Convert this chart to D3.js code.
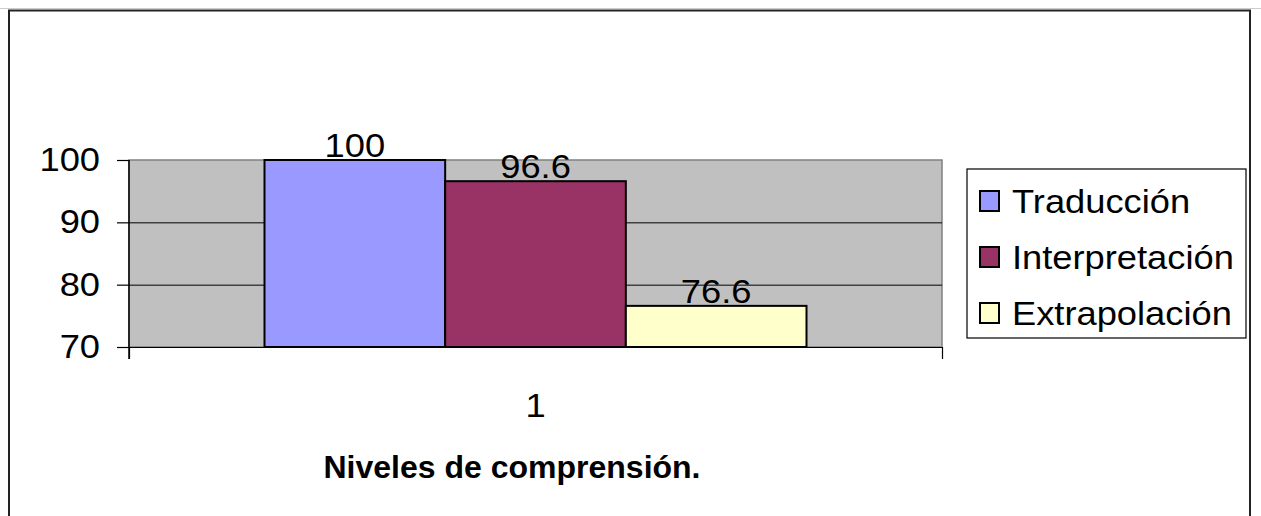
<!DOCTYPE html>
<html>
<head>
<meta charset="utf-8">
<script src="https://cdn.jsdelivr.net/npm/d3@7"></script>
<style>
body { margin: 0; background: #fff; }
</style>
</head>
<body>
<script>
// chart data
var categories = ["1"]
var seriesNames = ["Traducción", "Interpretación", "Extrapolación"]
var seriesValues = [100, 96.6, 76.6]
var seriesColors = ["#9999ff", "#993366", "#ffffcc"]
var yTicks = [70, 80, 90, 100]
var xTitle = "Niveles de comprensión."

var svgWidth = 1261
var svgHeight = 516
var plotLeft = 129, plotTop = 160, plotRight = 942, plotBottom = 347
var fontFam = "'Liberation Sans', Arial, sans-serif"
var textSize = 33
var stretch = 1.1   // the original text is drawn a little wide

var svg = d3.select("body").append("svg")
    .attr("width", svgWidth)
    .attr("height", svgHeight)

// outer chart border
svg.append("line")
    .attr("x1", 0).attr("x2", svgWidth)
    .attr("y1", 8.5).attr("y2", 8.5)
    .attr("stroke", "#cccccc")
svg.append("rect")
    .attr("x", 9).attr("y", 10.5)
    .attr("width", 1241).attr("height", 600)
    .attr("fill", "white")
    .attr("stroke", "#222")
    .attr("stroke-width", 2)

var y = d3.scaleLinear()
    .domain([70, 100])
    .range([plotBottom, plotTop])

var x0 = d3.scaleBand()
    .domain(categories)
    .range([plotLeft, plotRight])

var x1 = d3.scaleBand()
    .domain(seriesNames)
    .range([0, x0.bandwidth()])
    .paddingOuter(0.75)
    .paddingInner(0)

// plot area
svg.append("rect")
    .attr("x", plotLeft).attr("y", plotTop)
    .attr("width", plotRight - plotLeft)
    .attr("height", plotBottom - plotTop)
    .attr("fill", "#c0c0c0")
    .attr("stroke", "#808080")
    .attr("stroke-width", 1.5)

// gridlines
svg.append("g")
    .attr("transform", "translate(" + plotLeft + ",0)")
    .call(d3.axisLeft(y).tickValues([80, 90]).tickSize(-(plotRight - plotLeft)).tickFormat(""))
    .call(function(g) { g.select(".domain").remove() })
    .selectAll("line").attr("stroke", "#000")

// bars + value labels
var bars = svg.append("g")
categories.forEach(function(cat) {
    seriesNames.forEach(function(name, i) {
        var bx = x0(cat) + x1(name)
        bars.append("rect")
            .attr("x", bx)
            .attr("y", y(seriesValues[i]))
            .attr("width", x1.bandwidth())
            .attr("height", y(70) - y(seriesValues[i]))
            .attr("fill", seriesColors[i])
            .attr("stroke", "#000")
            .attr("stroke-width", 2)

        svg.append("text")
            .attr("transform", "translate(" + (bx + x1.bandwidth() / 2) + "," + (y(seriesValues[i]) - 3) + ") scale(" + stretch + ",1)")
            .attr("text-anchor", "middle")
            .attr("font-family", fontFam)
            .attr("font-size", textSize)
            .attr("fill", "#000")
            .text(d3.format("")(seriesValues[i]))
    })
})

// y axis
var yAxis = svg.append("g")
    .attr("transform", "translate(" + plotLeft + ",0)")
    .call(d3.axisLeft(y).tickValues(yTicks).tickSize(12))
yAxis.select(".domain").attr("d", "M0," + plotTop + "V" + (plotBottom + 12)).attr("stroke", "#000").attr("stroke-width", 1.5)
yAxis.selectAll(".tick line").attr("stroke", "#000").attr("stroke-width", 1.2)
yAxis.selectAll(".tick text")
    .attr("font-family", fontFam)
    .attr("font-size", textSize)
    .attr("fill", "#000")
    .attr("x", -29 / stretch)
    .attr("transform", "scale(" + stretch + ",1)")

// x axis
var xEdge = d3.scaleLinear().domain([0, 1]).range([plotLeft, plotRight])
var xAxis = svg.append("g")
    .attr("transform", "translate(0," + plotBottom + ")")
    .call(d3.axisBottom(xEdge).tickValues([0, 1]).tickSize(12).tickSizeOuter(0).tickFormat(""))
xAxis.selectAll("line, path").attr("stroke", "#000").attr("stroke-width", 1.2)

categories.forEach(function(cat) {
    svg.append("text")
        .attr("transform", "translate(" + (x0(cat) + x0.bandwidth() / 2) + ",417) scale(" + stretch + ",1)")
        .attr("text-anchor", "middle")
        .attr("font-family", fontFam)
        .attr("font-size", textSize)
        .text(cat)
})

// axis title
svg.append("text")
    .attr("x", 512)
    .attr("y", 478)
    .attr("text-anchor", "middle")
    .attr("font-family", fontFam)
    .attr("font-size", 32)
    .attr("font-weight", "bold")
    .text(xTitle)

// legend
var legend = svg.append("g").attr("transform", "translate(967,169)")
legend.append("rect")
    .attr("x", 0).attr("y", 0)
    .attr("width", 279).attr("height", 169)
    .attr("fill", "white")
    .attr("stroke", "#000")
    .attr("stroke-width", 1.2)

seriesNames.forEach(function(name, i) {
    var ly = 32 + i * 56
    legend.append("rect")
        .attr("x", 13).attr("y", ly - 10)
        .attr("width", 19).attr("height", 20)
        .attr("fill", seriesColors[i])
        .attr("stroke", "#000")
        .attr("stroke-width", 2)
    legend.append("text")
        .attr("transform", "translate(45," + ly + ") scale(" + stretch + ",1)")
        .attr("dy", "0.36em")
        .attr("font-family", fontFam)
        .attr("font-size", textSize)
        .text(name)
})
</script>
</body>
</html>
